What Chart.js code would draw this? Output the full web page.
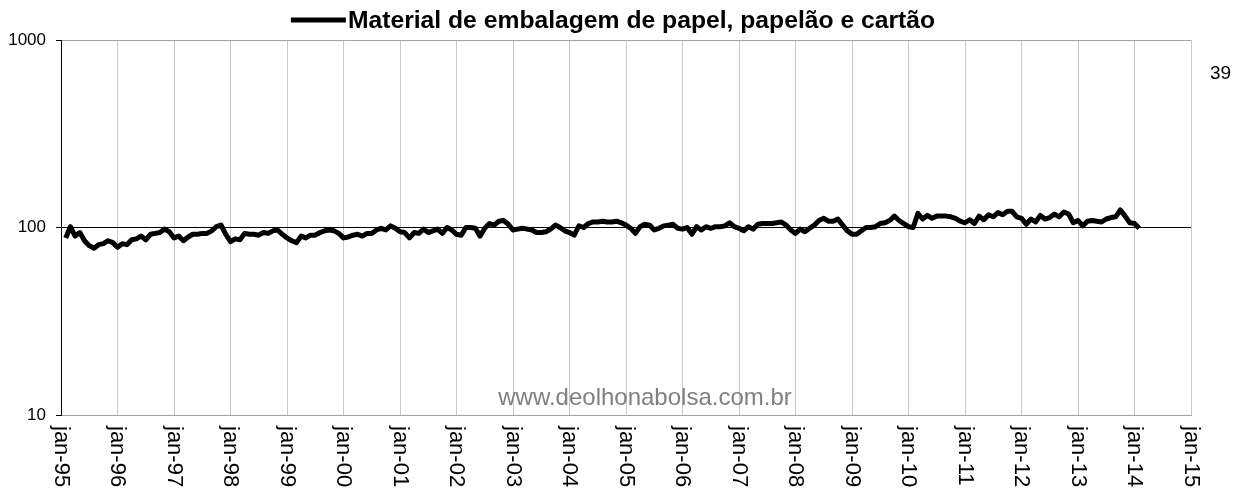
<!DOCTYPE html>
<html>

<head>
    <title>Material de embalagem de papel, papelão e cartão</title>
    <script src="https://cdn.jsdelivr.net/npm/chart.js"></script>
    <style>
        body { margin: 0; background: #ffffff; }
    </style>
</head>

<body>

    <canvas id="myChart" width="1234" height="494"></canvas>

    <script>
        // série mensal (índice), começa em fev-95
        var seriesLabel = 'Material de embalagem de papel, papelão e cartão';
        var firstMonth = 1; // meses depois de jan-95
        var values = [
            88, 101, 90, 94, 85, 80, 77.5, 81, 82, 85, 83, 78.5,
            82, 81, 86, 87, 90, 86, 92, 93, 94, 98, 95, 88,
            90, 85, 89, 92, 92, 93, 93, 96, 101, 103, 92, 84,
            87, 86, 93, 92, 92, 91, 94, 93, 96, 97, 92, 88,
            85, 83, 90, 88, 91, 91, 94, 96, 97, 96, 93, 88,
            89, 91, 92, 90, 93, 93, 97, 99, 97, 102, 99, 95,
            94, 88, 94, 93, 98, 94, 96, 98, 93, 100, 97, 92,
            91, 100, 100, 99, 90, 99, 105, 103, 108, 109, 104, 97,
            98, 99, 98, 97, 94, 94, 95, 98, 103, 100, 96, 94,
            91, 102, 100, 105, 107, 107, 108, 107, 107, 108, 106, 103,
            99, 93, 101, 104, 103, 97, 99, 102, 103, 104, 99, 98,
            100, 92, 101, 97, 101, 99, 101, 101, 102, 106, 101, 99,
            96, 101, 98, 104, 105, 105, 105, 106, 107, 103, 97, 93,
            98, 95, 99, 103, 109, 112, 108, 108, 111, 103, 96, 92,
            92, 96, 100, 100, 101, 105, 106, 109, 115, 109, 105, 101,
            100, 119, 111, 116, 112, 115, 115, 115, 114, 112, 108, 106,
            110, 105, 115, 110, 117, 114, 120, 117, 122, 122, 114, 112,
            104, 111, 107, 116, 111, 113, 118, 114, 121, 118, 106, 109,
            102, 108, 109, 108, 107, 111, 113, 114, 124, 115, 106, 105,
            99
        ];
        var tickLabels = ['jan-95', 'jan-96', 'jan-97', 'jan-98', 'jan-99', 'jan-00', 'jan-01',
            'jan-02', 'jan-03', 'jan-04', 'jan-05', 'jan-06', 'jan-07', 'jan-08', 'jan-09',
            'jan-10', 'jan-11', 'jan-12', 'jan-13', 'jan-14', 'jan-15'];
        var yTicks = [10, 100, 1000];
        var pageNumber = '39';
        var watermark = 'www.deolhonabolsa.com.br';

        var fontFamily = '"Liberation Sans", Arial, sans-serif';
        Chart.defaults.font.family = fontFamily;

        // legenda, rótulos girados do eixo x, marca d'água e número da página
        var extras = {
            id: 'extras',
            beforeDatasetsDraw(chart) {
                var ctx = chart.ctx;
                ctx.save();
                ctx.fillStyle = '#808080';
                ctx.font = '24px ' + fontFamily;
                ctx.textAlign = 'center';
                ctx.textBaseline = 'alphabetic';
                ctx.fillText(watermark, 645, 405);
                ctx.restore();
            },
            afterDraw(chart) {
                var ctx = chart.ctx;
                var area = chart.chartArea;
                var xScale = chart.scales.x;
                ctx.save();

                // x labels, reading top to bottom
                ctx.fillStyle = '#000';
                ctx.font = '22px ' + fontFamily;
                ctx.textAlign = 'left';
                ctx.textBaseline = 'middle';
                tickLabels.forEach(function (t, i) {
                    var px = xScale.getPixelForValue(i * 12);
                    ctx.save();
                    ctx.translate(px, area.bottom + 11);
                    ctx.rotate(Math.PI / 2);
                    ctx.fillText(t, 0, 0);
                    ctx.restore();
                });

                // legend on top
                ctx.font = 'bold 24.7px ' + fontFamily;
                var tw = ctx.measureText(seriesLabel).width;
                var lineW = 55, gap = 2;
                var left = chart.width / 2 - 4 - (lineW + gap + tw) / 2;
                ctx.strokeStyle = '#000';
                ctx.lineWidth = 5;
                ctx.beginPath();
                ctx.moveTo(left, 20);
                ctx.lineTo(left + lineW, 20);
                ctx.stroke();
                ctx.textBaseline = 'middle';
                ctx.fillText(seriesLabel, left + lineW + gap, 21);

                // page number
                ctx.font = '19px ' + fontFamily;
                ctx.fillText(pageNumber, area.right + 19, 74);
                ctx.restore();
            }
        };

        var ctx = document.getElementById('myChart').getContext('2d');
        var myChart = new Chart(ctx, {
            type: 'line',
            data: {
                datasets: [{
                    label: seriesLabel,
                    data: values.map(function (v, i) { return { x: firstMonth + i, y: v }; }),
                    borderColor: '#000',
                    backgroundColor: '#000',
                    borderWidth: 5,
                    borderJoinStyle: 'round',
                    pointRadius: 0,
                    tension: 0,
                    fill: false
                }]
            },
            options: {
                responsive: false,
                animation: false,
                devicePixelRatio: 1,
                layout: {
                    padding: { top: 40, right: 43, left: 0, bottom: 0 }
                },
                plugins: {
                    legend: { display: false },
                    tooltip: { enabled: false }
                },
                scales: {
                    x: {
                        type: 'linear',
                        min: 0,
                        max: 240,
                        afterBuildTicks: function (scale) {
                            scale.ticks = tickLabels.map(function (t, i) { return { value: i * 12 }; });
                        },
                        afterFit: function (scale) { scale.height = 79; },
                        ticks: { display: false },
                        grid: { color: '#c8c8c8', drawTicks: false },
                        border: { color: '#a6a6a6' }
                    },
                    y: {
                        type: 'logarithmic',
                        min: 10,
                        max: 1000,
                        afterBuildTicks: function (scale) {
                            scale.ticks = yTicks.map(function (v) { return { value: v }; });
                        },
                        afterFit: function (scale) { scale.width = 61; },
                        ticks: {
                            color: '#000',
                            font: { size: 17 },
                            padding: 10,
                            callback: function (v) { return String(v); }
                        },
                        grid: {
                            color: function (c) { return c.tick && c.tick.value === 100 ? '#000' : '#a6a6a6'; },
                            tickColor: '#000',
                            tickLength: 5
                        },
                        border: { color: '#000' }
                    }
                }
            },
            plugins: [extras]
        });
    </script>

</body>

</html>
